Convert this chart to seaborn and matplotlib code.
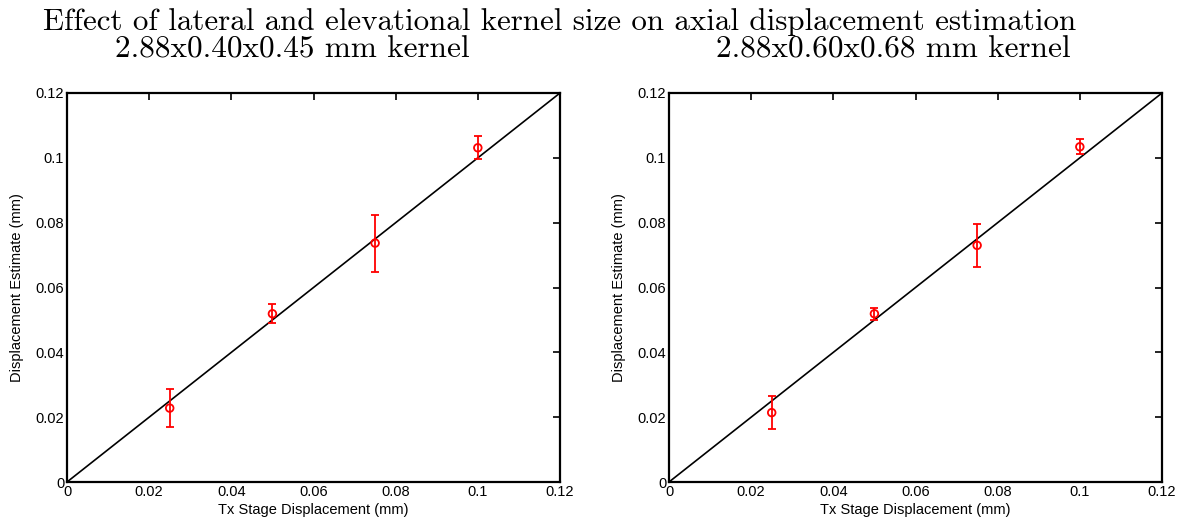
import matplotlib
matplotlib.use("Agg")
import matplotlib.pyplot as plt
import seaborn as sns
import pandas as pd

sns.set_theme(style="white")
plt.rcParams['font.family'] = ['Liberation Sans', 'DejaVu Sans']
plt.rcParams['text.color'] = 'black'
plt.rcParams['axes.labelcolor'] = 'black'

stage = [0.025, 0.05, 0.075, 0.1]
est_small = [0.0228, 0.0519, 0.0737, 0.1031]
err_small = [0.0058, 0.0030, 0.0088, 0.0035]
est_large = [0.0214, 0.0519, 0.0730, 0.1034]
err_large = [0.0050, 0.0019, 0.0066, 0.0023]
ticks = [0, 0.02, 0.04, 0.06, 0.08, 0.1, 0.12]
tick_labels = ["0", "0.02", "0.04", "0.06", "0.08", "0.1", "0.12"]
titles = ["2.88x0.40x0.45 mm kernel", "2.88x0.60x0.68 mm kernel"]
suptitle = "Effect of lateral and elevational kernel size on axial displacement estimation"

fig = plt.figure(figsize=(11.91, 5.24), dpi=100)
W, H = 1191, 524
axes = [fig.add_axes([67 / W, 1 - 482 / H, 493 / W, 389 / H]),
        fig.add_axes([669 / W, 1 - 482 / H, 493 / W, 389 / H])]
title_x = [292, 893]

ident = pd.DataFrame({"x": [0, 0.12], "y": [0, 0.12]})
for ax, est, err, title, tx in zip(axes, [est_small, est_large], [err_small, err_large], titles, title_x):
    sns.lineplot(data=ident, x="x", y="y", ax=ax, color="black", lw=1.2)
    ax.errorbar(stage, est, yerr=err, fmt="none", ecolor="red", elinewidth=1.3,
                capsize=3, capthick=1.3)
    df = pd.DataFrame({"x": stage, "y": est})
    sns.scatterplot(data=df, x="x", y="y", ax=ax, marker="o", s=30,
                    facecolor="none", edgecolor="red", linewidth=1.3, zorder=5)
    ax.set_xlim(0, 0.12)
    ax.set_ylim(0, 0.12)
    ax.set_xticks(ticks)
    ax.set_xticklabels(tick_labels)
    ax.set_yticks(ticks)
    ax.set_yticklabels(tick_labels)
    ax.tick_params(direction="in", top=True, right=True, length=5, width=1.2,
                   labelsize=10.5, pad=2, colors="black")
    for s in ax.spines.values():
        s.set_visible(True)
        s.set_color("black")
        s.set_linewidth(1.6)
    ax.set_xlabel("Tx Stage Displacement (mm)", fontsize=10.5, labelpad=3)
    ax.set_ylabel("Displacement Estimate (mm)", fontsize=10.5, labelpad=8)
    fig.text(tx / W, 1 - 50 / H, title, ha="center", va="center", fontsize=22.5, family="cmr10")

fig.text(560 / W, 1 - 22 / H, suptitle, ha="center", va="center", fontsize=22.3, family="cmr10")
fig.savefig("out.png", dpi=100, facecolor="white")
